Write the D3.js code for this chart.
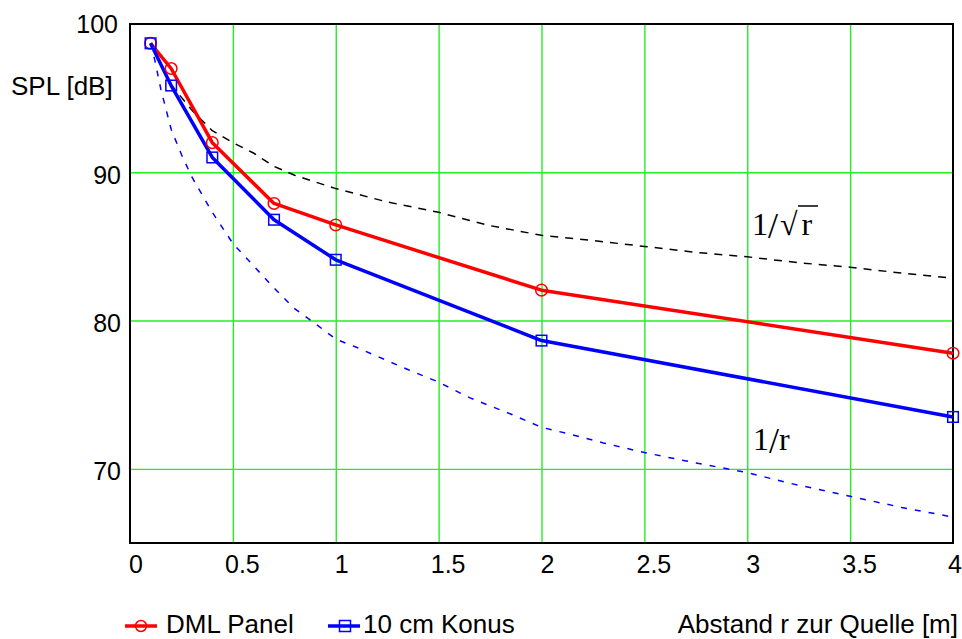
<!DOCTYPE html>
<html><head><meta charset="utf-8">
<script src="https://cdn.jsdelivr.net/npm/d3@7/dist/d3.min.js"></script>
<style>html,body{margin:0;padding:0;background:#fff}svg{display:block}</style>
</head><body>
<svg id="chart" width="962" height="639"></svg>
<script>
// ---- data ----
const distances = [0.1, 0.2, 0.4, 0.7, 1, 2, 4];
const dmlPanel  = [98.7, 97.0, 92.0, 87.9, 86.45, 82.05, 77.8];
const konus10cm = [98.7, 95.85, 91.0, 86.8, 84.1, 78.65, 73.5];

const sqrtRefR  = [0.1, 0.2, 0.3, 0.4, 0.5, 0.6, 0.7, 0.8, 0.9, 1.0, 1.25, 1.5, 1.75, 2.0, 2.25, 2.5, 2.75, 3.0, 3.25, 3.5, 3.75, 4.0];
const sqrtRefDb = [98.7, 95.9, 94.2, 92.8, 92.0, 91.3, 90.4, 89.8, 89.35, 88.9, 88.0, 87.3, 86.4, 85.75, 85.4, 85.0, 84.6, 84.3, 83.9, 83.6, 83.2, 82.85];

const invRefR  = [0.1, 0.12, 0.15, 0.2, 0.25, 0.3, 0.4, 0.5, 0.6, 0.7, 0.8, 0.9, 1.0, 1.1, 1.2, 1.35, 1.5, 1.65, 1.85, 2.0, 2.15, 2.3, 2.5, 2.75, 3.0, 3.2, 3.5, 3.75, 4.0];
const invRefDb = [98.7, 97.6, 95.6, 92.9, 91.2, 89.7, 87.3, 85.2, 83.7, 82.2, 80.8, 79.8, 78.75, 78.2, 77.6, 76.7, 75.85, 74.8, 73.7, 72.8, 72.3, 71.75, 71.1, 70.4, 69.75, 69.05, 68.15, 67.4, 66.75];

const xTicks = [0, 0.5, 1, 1.5, 2, 2.5, 3, 3.5, 4];
const yTicks = [70, 80, 90, 100];
const seriesNames = ["DML Panel", "10 cm Konus"];
const yLabel = "SPL [dB]";
const xLabel = "Abstand r zur Quelle [m]";

// ---- layout ----
const L = 130, R = 953, T = 24, B = 543;
const svg = d3.select("#chart");
const x = d3.scaleLinear().domain([0, 4]).range([L, R]);
const y = d3.scaleLinear().domain([65, 100]).range([B, T]);
const sans = "'Liberation Sans', Arial, sans-serif";
const serif = "'Liberation Serif', 'Times New Roman', serif";
const RED = "#ff0000", BLUE = "#0000ff", GRID = "#22ee22";

// grid
const gx = svg.append("g").attr("transform", `translate(0,${B})`)
  .call(d3.axisBottom(x).tickValues(xTicks.slice(1, -1)).tickSize(-(B - T)).tickFormat(""));
gx.select(".domain").remove();
gx.selectAll("line").attr("stroke", GRID).attr("stroke-width", 1.4);
const gy = svg.append("g").attr("transform", `translate(${L},0)`)
  .call(d3.axisLeft(y).tickValues(yTicks.slice(0, -1)).tickSize(-(R - L)).tickFormat(""));
gy.select(".domain").remove();
gy.selectAll("line").attr("stroke", GRID).attr("stroke-width", 1.4);

// frame
svg.append("rect").attr("x", L).attr("y", T).attr("width", R - L).attr("height", B - T)
  .attr("fill", "none").attr("stroke", "#000").attr("stroke-width", 2);

// axis labels
const ax = svg.append("g").attr("transform", `translate(0,${B})`)
  .call(d3.axisBottom(x).tickValues(xTicks).tickSize(0).tickFormat(d => String(d)));
ax.select(".domain").remove();
ax.selectAll("text")
  .attr("font-family", sans).attr("font-size", 25).attr("fill", "#000")
  .attr("y", 30).attr("dy", 0)
  .attr("dx", (d, i) => i === xTicks.length - 1 ? 1.5 : (Number.isInteger(d) ? 5.5 : 9));

const ay = svg.append("g").attr("transform", `translate(${L},0)`)
  .call(d3.axisLeft(y).tickValues(yTicks).tickSize(0));
ay.select(".domain").remove();
ay.selectAll("text")
  .attr("font-family", sans).attr("font-size", 25).attr("fill", "#000")
  .attr("x", d => d === 100 ? -12 : -9).attr("dy", 0).attr("y", d => d === 100 ? 8 : 11);

svg.append("text").attr("x", 11).attr("y", 95).attr("font-family", sans).attr("font-size", 26)
  .text(yLabel);
svg.append("text").attr("x", 958).attr("y", 633).attr("text-anchor", "end")
  .attr("font-family", sans).attr("font-size", 26).text(xLabel);

// reference curves
const line = d3.line().x(d => x(d[0])).y(d => y(d[1]));
svg.append("path").datum(sqrtRefR.map((r, i) => [r, sqrtRefDb[i]]))
  .attr("d", line).attr("fill", "none").attr("stroke", "#000").attr("stroke-width", 1.5)
  .attr("stroke-dasharray", "8,7");
svg.append("path").datum(invRefR.map((r, i) => [r, invRefDb[i]]))
  .attr("d", line).attr("fill", "none").attr("stroke", BLUE).attr("stroke-width", 1.5)
  .attr("stroke-dasharray", "6,8");

// measured series
const dmlData = distances.map((r, i) => [r, dmlPanel[i]]);
const konData = distances.map((r, i) => [r, konus10cm[i]]);
svg.append("path").datum(dmlData).attr("d", line).attr("fill", "none")
  .attr("stroke", RED).attr("stroke-width", 3.5).attr("stroke-linejoin", "round");
svg.append("path").datum(konData).attr("d", line).attr("fill", "none")
  .attr("stroke", BLUE).attr("stroke-width", 3.5).attr("stroke-linejoin", "round");
svg.append("g").selectAll("circle").data(dmlData).join("circle")
  .attr("cx", d => x(d[0])).attr("cy", d => y(d[1])).attr("r", 5.8)
  .attr("fill", "none").attr("stroke", RED).attr("stroke-width", 1.5);
svg.append("g").selectAll("rect").data(konData).join("rect")
  .attr("x", d => x(d[0]) - 5.3).attr("y", d => y(d[1]) - 5.3).attr("width", 10.6).attr("height", 10.6)
  .attr("fill", "none").attr("stroke", BLUE).attr("stroke-width", 1.5);

// legend
const lg = svg.append("g");
lg.append("line").attr("x1", 125).attr("x2", 157).attr("y1", 626).attr("y2", 626)
  .attr("stroke", RED).attr("stroke-width", 3.5);
lg.append("circle").attr("cx", 141).attr("cy", 626).attr("r", 5.5)
  .attr("fill", "none").attr("stroke", RED).attr("stroke-width", 1.5);
lg.append("text").attr("x", 166).attr("y", 633).attr("font-family", sans).attr("font-size", 26)
  .text(seriesNames[0]);
lg.append("line").attr("x1", 328).attr("x2", 360).attr("y1", 626).attr("y2", 626)
  .attr("stroke", BLUE).attr("stroke-width", 3.5);
lg.append("rect").attr("x", 339.5).attr("y", 620.5).attr("width", 11).attr("height", 11)
  .attr("fill", "none").attr("stroke", BLUE).attr("stroke-width", 1.5);
lg.append("text").attr("x", 363).attr("y", 633).attr("font-family", sans).attr("font-size", 26)
  .text(seriesNames[1]);

// curve annotations (each a single text element)
const a1 = svg.append("text").attr("font-family", serif).attr("font-size", 32)
  .attr("x", 752).attr("y", 235);
a1.append("tspan").text("1");
a1.append("tspan").attr("font-size", 36).attr("dy", 3).text("/");
a1.append("tspan").attr("dx", 2).attr("dy", -3).text("\u221A");
a1.append("tspan").attr("dx", 4).text("r");
svg.append("line").attr("x1", 798).attr("x2", 818).attr("y1", 206).attr("y2", 206)
  .attr("stroke", "#000").attr("stroke-width", 1.5);

const a2 = svg.append("text").attr("font-family", serif).attr("font-size", 32)
  .attr("x", 753).attr("y", 450);
a2.append("tspan").text("1");
a2.append("tspan").attr("font-size", 36).attr("dy", 3).text("/");
a2.append("tspan").attr("dy", -3).text("r");
</script>
</body></html>
